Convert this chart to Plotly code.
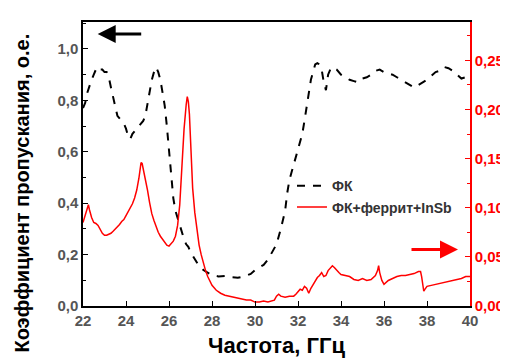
import plotly.graph_objects as go

fk_freq = [22.0, 22.1, 22.2, 22.3, 22.4, 22.5, 22.6, 22.7, 22.8, 22.9, 23.0, 23.1, 23.2, 23.3, 23.4,
           23.5, 23.6, 23.7, 23.8, 23.9, 24.0, 24.1, 24.2, 24.3, 24.4, 24.5, 24.6, 24.7, 24.8, 24.9,
           25.0, 25.1, 25.2, 25.3, 25.4, 25.5, 25.6, 25.7, 25.8, 25.9, 26.0, 26.1, 26.2, 26.3, 26.4,
           26.5, 26.6, 26.7, 26.8, 26.9, 27.0, 27.2, 27.4, 27.6, 27.8, 28.0, 28.3, 28.6, 28.9, 29.2,
           29.5, 29.8, 30.0, 30.2, 30.4, 30.6, 30.8, 31.0, 31.2, 31.4, 31.5, 31.6, 31.7, 31.8, 31.9,
           32.0, 32.1, 32.2, 32.3, 32.4, 32.5, 32.6, 32.7, 32.8, 32.9, 33.0, 33.1, 33.2, 33.3, 33.4,
           33.5, 33.6, 33.8, 34.0, 34.2, 34.4, 34.6, 34.8, 35.0, 35.2, 35.4, 35.6, 35.8, 36.0, 36.2,
           36.4, 36.6, 36.8, 37.0, 37.2, 37.4, 37.6, 37.8, 38.0, 38.2, 38.4, 38.6, 38.8, 39.0, 39.2,
           39.4, 39.6, 39.8, 40.0]
fk_vals = [0.77, 0.79, 0.83, 0.86, 0.88, 0.90, 0.92, 0.93, 0.92, 0.92, 0.91, 0.91, 0.89, 0.85, 0.81,
           0.77, 0.74, 0.73, 0.72, 0.71, 0.69, 0.66, 0.65, 0.67, 0.68, 0.69, 0.70, 0.71, 0.72, 0.74,
           0.79, 0.84, 0.88, 0.91, 0.93, 0.91, 0.88, 0.83, 0.78, 0.70, 0.60, 0.50, 0.42, 0.37, 0.34,
           0.31, 0.28, 0.26, 0.24, 0.23, 0.21, 0.18, 0.155, 0.14, 0.13, 0.12, 0.115, 0.117, 0.112, 0.11,
           0.115, 0.125, 0.14, 0.15, 0.16, 0.18, 0.21, 0.24, 0.30, 0.37, 0.44, 0.49, 0.52, 0.55, 0.58,
           0.62, 0.65, 0.67, 0.72, 0.77, 0.83, 0.88, 0.91, 0.94, 0.945, 0.94, 0.92, 0.87, 0.84, 0.90,
           0.92, 0.93, 0.92, 0.90, 0.89, 0.88, 0.875, 0.87, 0.885, 0.89, 0.90, 0.915, 0.92, 0.91, 0.905,
           0.90, 0.89, 0.88, 0.87, 0.86, 0.85, 0.86, 0.87, 0.88, 0.895, 0.91, 0.915, 0.93, 0.925, 0.915,
           0.90, 0.885, 0.89, 0.885]

mix_freq = [22.0, 22.1, 22.2, 22.25, 22.3, 22.4, 22.5, 22.6, 22.7, 22.8, 22.9, 23.0, 23.1, 23.2, 23.3,
            23.4, 23.5, 23.6, 23.7, 23.8, 23.9, 24.0, 24.1, 24.2, 24.3, 24.4, 24.5, 24.6, 24.65, 24.7,
            24.75, 24.8, 24.9, 25.0, 25.1, 25.2, 25.3, 25.4, 25.5, 25.6, 25.7, 25.8, 25.9, 26.0, 26.1,
            26.2, 26.3, 26.4, 26.5, 26.55, 26.6, 26.7, 26.8, 26.85, 26.9, 26.95, 27.0, 27.05, 27.1, 27.2,
            27.3, 27.4, 27.5, 27.6, 27.7, 27.8, 27.9, 28.0, 28.2, 28.4, 28.6, 28.8, 29.0, 29.2, 29.4,
            29.6, 29.8, 30.0, 30.2, 30.4, 30.6, 30.8, 30.9, 31.0, 31.1, 31.2, 31.4, 31.6, 31.8, 31.9,
            32.0, 32.1, 32.2, 32.3, 32.4, 32.5, 32.6, 32.7, 32.8, 32.9, 33.0, 33.1, 33.2, 33.3, 33.4,
            33.5, 33.6, 33.7, 33.8, 33.9, 34.0, 34.2, 34.4, 34.6, 34.8, 35.0, 35.2, 35.4, 35.6, 35.7,
            35.75, 35.8, 35.9, 36.0, 36.1, 36.2, 36.4, 36.6, 36.8, 37.0, 37.2, 37.4, 37.6, 37.7, 37.75,
            37.8, 37.85, 37.9, 38.0, 38.2, 38.4, 38.6, 38.8, 39.0, 39.2, 39.4, 39.6, 39.8, 40.0]
mix_vals = [0.085, 0.093, 0.100, 0.103, 0.098, 0.090, 0.085, 0.084, 0.082, 0.078, 0.074, 0.072, 0.072, 0.073, 0.074,
            0.076, 0.078, 0.080, 0.083, 0.086, 0.088, 0.092, 0.096, 0.100, 0.104, 0.110, 0.118, 0.130, 0.140, 0.146,
            0.145, 0.140, 0.128, 0.118, 0.105, 0.094, 0.087, 0.080, 0.075, 0.071, 0.068, 0.064, 0.062, 0.061, 0.063,
            0.066, 0.071, 0.082, 0.103, 0.125, 0.150, 0.180, 0.205, 0.213, 0.208, 0.195, 0.170, 0.140, 0.120, 0.095,
            0.076, 0.062, 0.052, 0.043, 0.036, 0.030, 0.025, 0.021, 0.016, 0.013, 0.011, 0.010, 0.009, 0.008, 0.007,
            0.006, 0.006, 0.004, 0.004, 0.005, 0.004, 0.005, 0.006, 0.010, 0.012, 0.010, 0.009, 0.010, 0.010, 0.012,
            0.015, 0.017, 0.016, 0.020, 0.018, 0.013, 0.018, 0.022, 0.026, 0.029, 0.031, 0.034, 0.030, 0.031, 0.036,
            0.038, 0.041, 0.039, 0.036, 0.034, 0.032, 0.031, 0.030, 0.027, 0.026, 0.028, 0.026, 0.027, 0.031, 0.036,
            0.041, 0.034, 0.026, 0.022, 0.024, 0.026, 0.028, 0.030, 0.031, 0.031, 0.032, 0.033, 0.035, 0.035, 0.030,
            0.020, 0.015, 0.017, 0.020, 0.021, 0.022, 0.023, 0.024, 0.025, 0.026, 0.027, 0.028, 0.030, 0.030]

series_names = ["ФК", "ФК+феррит+InSb"]
x_title = "Частота, ГГц"
y_title = "Коэффициент пропускания, о.е."

FONT = "Liberation Sans, Arial"

fig = go.Figure()
fig.add_trace(go.Scatter(x=fk_freq, y=fk_vals, mode="lines", name=series_names[0],
                         line=dict(color="black", width=2, dash="8px,8px")))
fig.add_trace(go.Scatter(x=mix_freq, y=mix_vals, mode="lines", name=series_names[1], yaxis="y2",
                         line=dict(color="red", width=1.5)))

tickfont = dict(family=FONT, size=15, color="#555555", weight="bold")
fig.update_layout(
    width=508, height=358,
    margin=dict(l=75, r=43, t=12, b=60),
    paper_bgcolor="white", plot_bgcolor="white",
    separators=", ",
    showlegend=True,
    legend=dict(x=0.54, y=0.478, xanchor="left", yanchor="top", bgcolor="rgba(0,0,0,0)",
                font=dict(family=FONT, size=14, color="#333333", weight="bold"),
                tracegroupgap=0, itemwidth=30),
    xaxis=dict(range=[22, 40], dtick=2, ticks="inside", ticklen=5, tickcolor="black",
               showline=True, linecolor="black", linewidth=1.5, mirror=True, showgrid=False,
               zeroline=False, tickfont=tickfont,
               title=dict(text=x_title, font=dict(family=FONT, size=22, color="black", weight="bold"),
                          standoff=10)),
    yaxis=dict(range=[0, 1.105], dtick=0.2, tickformat=".1f", ticks="inside", ticklen=5, tickcolor="black",
               minor=dict(dtick=0.1, ticks="inside", ticklen=3, tickcolor="black"),
               showline=True, linecolor="black", linewidth=1.5, showgrid=False, zeroline=False,
               tickfont=tickfont),
    yaxis2=dict(range=[0, 0.289], dtick=0.05, tickformat=".2f", overlaying="y", side="right",
                ticks="inside", ticklen=5, tickcolor="red",
                minor=dict(dtick=0.025, ticks="inside", ticklen=3, tickcolor="red"),
                showline=True, linecolor="red", linewidth=1.5, showgrid=False, zeroline=False,
                tickfont=dict(family=FONT, size=15, color="red", weight="bold")),
)

fig.add_annotation(xref="paper", yref="paper", x=-0.158, y=0.399, text=y_title, textangle=-90,
                   showarrow=False, xanchor="center", yanchor="middle",
                   font=dict(family=FONT, size=20, color="black", weight="bold"))

fig.add_annotation(xref="paper", yref="paper", x=0.038, y=0.958, ax=45, ay=0, axref="pixel", ayref="pixel",
                   text="", showarrow=True, arrowhead=2, arrowsize=1.2, arrowwidth=3, arrowcolor="black")
fig.add_annotation(xref="paper", yref="paper", x=0.969, y=0.199, ax=-48, ay=0, axref="pixel", ayref="pixel",
                   text="", showarrow=True, arrowhead=2, arrowsize=1.2, arrowwidth=3, arrowcolor="red")

fig.write_html("out.html")
